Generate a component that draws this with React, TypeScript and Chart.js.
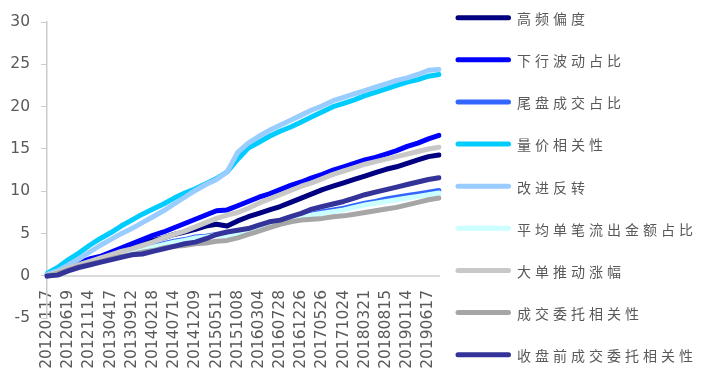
import React, { useEffect, useRef } from "react";
import { Chart, registerables } from "chart.js";

Chart.register(...registerables);

// Trading dates, one point every ~50 trading days; every other date is an axis tick label.
const DATES = [
  "20120117", "20120330", "20120619", "20120831", "20121114", "20130131",
  "20130417", "20130628", "20130912", "20131128", "20140218", "20140430",
  "20140714", "20140919", "20141209", "20150225", "20150511", "20150721",
  "20151008", "20151218", "20160304", "20160516", "20160728", "20161011",
  "20161226", "20170314", "20170526", "20170807", "20171024", "20180103",
  "20180321", "20180601", "20180815", "20181029", "20190114", "20190401",
  "20190617", "20190826",
];

const SERIES_NAMES = [
  "高频偏度",
  "下行波动占比",
  "尾盘成交占比",
  "量价相关性",
  "改进反转",
  "平均单笔流出金额占比",
  "大单推动涨幅",
  "成交委托相关性",
  "收盘前成交委托相关性",
];

const SERIES_COLORS = [
  "#000080",
  "#0000ff",
  "#3366ff",
  "#00ccff",
  "#99ccff",
  "#ccffff",
  "#c8c8c8",
  "#a6a6a6",
  "#333399",
];

const GAOPIN = [0, 0.4, 0.9, 1.3, 1.8, 2.2, 2.6, 3.0, 3.4, 3.9, 4.2, 4.5, 4.9, 5.2, 5.5, 5.9, 6.1, 5.9, 6.5, 7.0, 7.4, 7.8, 8.2, 8.7, 9.2, 9.7, 10.2, 10.6, 11.0, 11.4, 11.8, 12.2, 12.6, 12.9, 13.3, 13.7, 14.1, 14.3];
const XIAXING = [0, 0.5, 1.1, 1.6, 2.0, 2.3, 2.8, 3.3, 3.8, 4.3, 4.8, 5.2, 5.7, 6.2, 6.7, 7.2, 7.7, 7.8, 8.3, 8.8, 9.3, 9.7, 10.2, 10.7, 11.1, 11.6, 12.0, 12.5, 12.9, 13.3, 13.7, 14.0, 14.4, 14.8, 15.3, 15.7, 16.2, 16.6];
const WEIPAN = [0, 0.4, 0.9, 1.3, 1.7, 2.0, 2.3, 2.6, 2.9, 3.2, 3.5, 3.8, 4.1, 4.3, 4.6, 4.7, 4.9, 4.9, 5.1, 5.4, 5.7, 6.1, 6.4, 6.7, 7.0, 7.3, 7.6, 7.8, 8.0, 8.3, 8.6, 8.8, 9.1, 9.3, 9.5, 9.7, 9.9, 10.1];
const LIANGJIA = [0.3, 1.0, 1.9, 2.7, 3.6, 4.4, 5.1, 5.9, 6.6, 7.3, 7.9, 8.5, 9.2, 9.8, 10.3, 10.9, 11.5, 12.3, 13.8, 15.1, 15.8, 16.5, 17.1, 17.6, 18.2, 18.8, 19.4, 20.0, 20.4, 20.8, 21.3, 21.7, 22.1, 22.5, 22.9, 23.2, 23.6, 23.8];
const GAIJIN = [0.2, 0.6, 1.3, 2.0, 2.8, 3.6, 4.3, 5.0, 5.6, 6.3, 7.0, 7.7, 8.5, 9.3, 10.1, 10.8, 11.4, 12.3, 14.6, 15.7, 16.5, 17.2, 17.8, 18.4, 19.0, 19.6, 20.1, 20.7, 21.1, 21.5, 21.9, 22.3, 22.7, 23.1, 23.4, 23.8, 24.3, 24.4];
const PINGJUN = [0, 0.4, 0.8, 1.2, 1.6, 1.9, 2.2, 2.5, 2.8, 3.1, 3.4, 3.7, 4.0, 4.2, 4.5, 4.6, 4.8, 4.8, 5.0, 5.3, 5.6, 6.0, 6.3, 6.6, 6.9, 7.2, 7.4, 7.6, 7.8, 8.1, 8.4, 8.6, 8.8, 9.0, 9.2, 9.4, 9.6, 9.8];
const DADAN = [0, 0.4, 0.9, 1.3, 1.7, 2.1, 2.5, 2.9, 3.2, 3.6, 4.0, 4.5, 4.9, 5.3, 5.8, 6.3, 6.8, 7.2, 7.5, 8.0, 8.6, 9.1, 9.6, 10.1, 10.6, 11.0, 11.5, 12.0, 12.4, 12.8, 13.2, 13.5, 13.8, 14.1, 14.4, 14.7, 15.0, 15.2];
const CHENGJIAO = [0, 0.3, 0.7, 1.1, 1.4, 1.7, 2.0, 2.3, 2.5, 2.8, 3.0, 3.3, 3.5, 3.6, 3.8, 3.9, 4.1, 4.2, 4.5, 4.9, 5.3, 5.7, 6.1, 6.4, 6.6, 6.7, 6.8, 7.0, 7.1, 7.3, 7.5, 7.7, 7.9, 8.1, 8.4, 8.7, 9.0, 9.2];
const SHOUPAN = [0, 0.1, 0.6, 1.0, 1.3, 1.6, 1.9, 2.2, 2.5, 2.6, 2.9, 3.2, 3.5, 3.8, 4.0, 4.4, 4.9, 5.2, 5.4, 5.6, 6.0, 6.4, 6.6, 7.0, 7.4, 7.9, 8.2, 8.5, 8.8, 9.2, 9.6, 9.9, 10.2, 10.5, 10.8, 11.1, 11.4, 11.6];

const SERIES_VALUES = [GAOPIN, XIAXING, WEIPAN, LIANGJIA, GAIJIN, PINGJUN, DADAN, CHENGJIAO, SHOUPAN];

const Y_MIN = -5;
const Y_MAX = 30;
const Y_STEP = 5;

const AXIS_TEXT = "#595959";
const AXIS_FONT = { family: "'DejaVu Sans', 'Liberation Sans', sans-serif", size: 15.5 };

const sideLegend = {
  id: "sideLegend",
  afterDraw(chart: any) {
    const ctx = chart.ctx as CanvasRenderingContext2D;
    ctx.save();
    chart.data.datasets.forEach((ds: any, i: number) => {
      const y = 17.7 + i * 42.13;
      ctx.strokeStyle = ds.borderColor;
      ctx.lineWidth = 5;
      ctx.lineCap = "round";
      ctx.beginPath();
      ctx.moveTo(458, y);
      ctx.lineTo(508.5, y);
      ctx.stroke();
      ctx.fillStyle = AXIS_TEXT;
      ctx.font = "14px 'Noto Sans CJK SC', sans-serif";
      ctx.textBaseline = "middle";
      ctx.textAlign = "left";
      (ctx as any).letterSpacing = "4px";
      ctx.fillText(ds.label, 517, y + 1);
    });
    ctx.restore();
  },
};

export default function App() {
  const canvasRef = useRef<HTMLCanvasElement | null>(null);

  useEffect(() => {
    if (!canvasRef.current) return;
    const n = SERIES_NAMES.length;
    const chart = new Chart(canvasRef.current, {
      type: "line",
      data: {
        labels: DATES,
        datasets: SERIES_NAMES.map((name, i) => ({
          label: name,
          data: SERIES_VALUES[i],
          borderColor: SERIES_COLORS[i],
          backgroundColor: SERIES_COLORS[i],
          borderWidth: 5,
          pointRadius: 0,
          tension: 0,
          fill: false,
          borderJoinStyle: "round" as const,
          borderCapStyle: "round" as const,
          order: n - 1 - i,
        })),
      },
      options: {
        animation: false,
        responsive: false,
        maintainAspectRatio: false,
        layout: { padding: { top: 22, bottom: 62.7, left: 0, right: 266 } },
        plugins: {
          legend: { display: false },
          tooltip: { enabled: false },
        },
        scales: {
          x: {
            type: "category",
            position: { y: 0 } as any,
            offset: false,
            grid: { display: false, drawTicks: false },
            border: { display: true, color: "#d9d9d9", width: 2 },
            ticks: {
              autoSkip: false,
              minRotation: 90,
              maxRotation: 90,
              padding: 14,
              color: AXIS_TEXT,
              font: AXIS_FONT,
              callback: function (this: any, v: any, i: number) {
                return i % 2 === 0 ? this.getLabelForValue(v) : "";
              },
            },
          },
          y: {
            min: Y_MIN,
            max: Y_MAX,
            ticks: { stepSize: Y_STEP, color: AXIS_TEXT, font: AXIS_FONT, padding: 11 },
            grid: { drawOnChartArea: false, drawTicks: true, tickLength: 6, color: "#cccccc" },
            border: { display: true, color: "#cccccc", width: 1.5 },
            afterFit(scale: any) {
              scale.width = 47;
            },
          },
        },
      },
      plugins: [sideLegend],
    });
    return () => chart.destroy();
  }, []);

  return (
    <div style={{ position: "fixed", left: 0, top: 0, width: 705, height: 381, background: "#ffffff" }}>
      <canvas ref={canvasRef} width={705} height={381} style={{ display: "block" }} />
    </div>
  );
}
